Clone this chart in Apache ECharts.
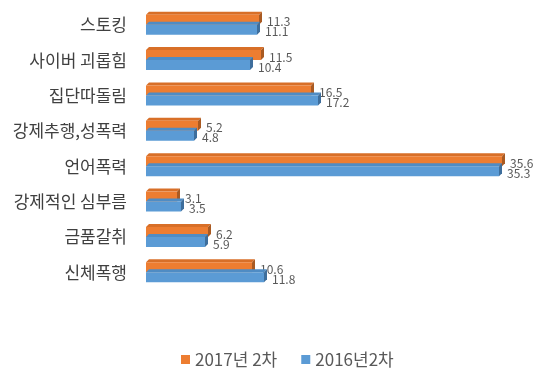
<!DOCTYPE html>
<html>
<head>
<meta charset="utf-8">
<script src="https://cdn.jsdelivr.net/npm/echarts@6/dist/echarts.min.js"></script>
<style>html,body{margin:0;padding:0;background:#fff}#c{width:555px;height:373px}</style>
</head>
<body>
<div id="c"></div>
<script>
const categories = ['스토킹','사이버 괴롭힘','집단따돌림','강제추행,성폭력','언어폭력','강제적인 심부름','금품갈취','신체폭행'];
const series2017 = [11.3, 11.5, 16.5, 5.2, 35.6, 3.1, 6.2, 10.6];
const series2016 = [11.1, 10.4, 17.2, 4.8, 35.3, 3.5, 5.9, 11.8];
const seriesNames = ['2017년 2차', '2016년2차'];

const FONT = '"Noto Sans CJK KR", "Noto Sans", sans-serif';
const colors = [
  {front:'#ED7D31', top:'#D86F28', side:'#A95A22'},
  {front:'#5B9BD5', top:'#4F8CC4', side:'#3E6E9C'}
];
const BAR_H = 10, D = 3;

function makeRender(si){
  return function(params, api){
    const v = api.value(0), idx = api.value(1);
    const p0 = api.coord([0, idx]);
    const p1 = api.coord([v, idx]);
    const x0 = p0[0], x1 = p1[0], cy = p0[1];
    const y = si === 0 ? cy - BAR_H : cy;
    const h = BAR_H;
    const c = colors[si];
    const children = [
      {type:'polygon', shape:{points:[[x0,y],[x0+D,y-D],[x1+D,y-D],[x1,y]]}, style:{fill:c.top}},
      {type:'rect', shape:{x:x0, y:y, width:x1-x0, height:h}, style:{fill:c.front}},
      {type:'polygon', shape:{points:[[x1,y],[x1+D,y-D],[x1+D,y+h-D],[x1,y+h]]}, style:{fill:c.side}},
      {type:'text', x:x1+D+5, y:y+h/2+2, style:{text:v.toFixed(1), fill:'#595959', font:'12px ' + FONT, verticalAlign:'middle', align:'left'}}
    ];
    return {type:'group', children:children};
  };
}

const chart = echarts.init(document.getElementById('c'));
chart.setOption({
  animation:false,
  backgroundColor:'#fff',
  color:[colors[0].front, colors[1].front],
  grid:{left:146, top:7, width:400, bottom:83},
  legend:{
    data:seriesNames,
    bottom:0, left:176,
    icon:'rect', itemWidth:9, itemHeight:9, itemGap:24,
    textStyle:{fontSize:17, color:'#595959', fontFamily:FONT}
  },
  xAxis:{type:'value', min:0, max:40, show:false},
  yAxis:{
    type:'category', data:categories, inverse:true,
    axisLine:{show:false}, axisTick:{show:false}, splitLine:{show:false},
    axisLabel:{fontSize:17, color:'#404040', fontFamily:FONT, margin:19}
  },
  series:[
    {type:'custom', name:seriesNames[0], renderItem:makeRender(0), data:series2017.map((v,i)=>[v,i]), encode:{x:0,y:1}, itemStyle:{color:colors[0].front}},
    {type:'custom', name:seriesNames[1], renderItem:makeRender(1), data:series2016.map((v,i)=>[v,i]), encode:{x:0,y:1}, itemStyle:{color:colors[1].front}}
  ]
});
</script>
</body>
</html>
